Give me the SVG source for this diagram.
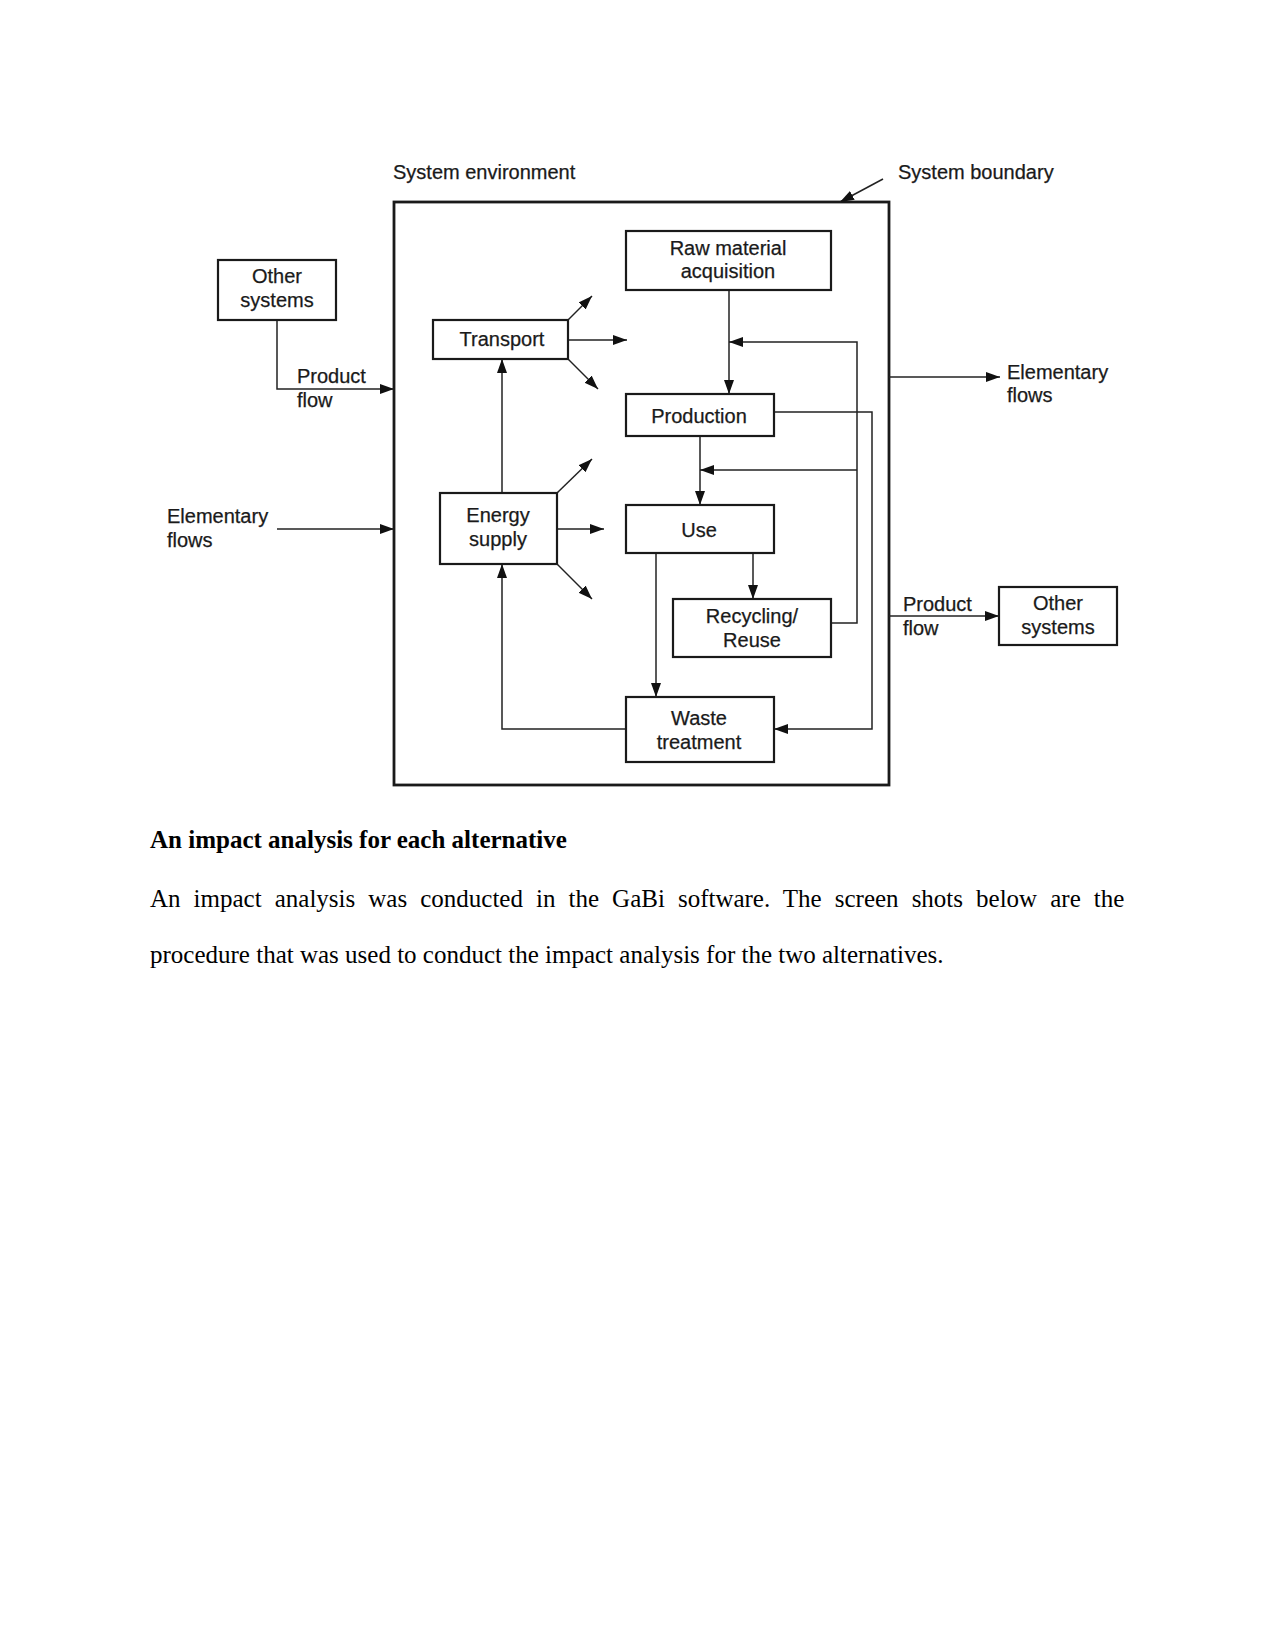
<svg xmlns="http://www.w3.org/2000/svg" width="1275" height="1651" viewBox="0 0 1275 1651">
<style>
.lbl{font-family:"Liberation Sans",Arial,sans-serif;font-size:20px;fill:#1a1a1a;stroke:#1a1a1a;stroke-width:0.25}
.c{text-anchor:middle}
.box{fill:#fff;stroke:#1a1a1a;stroke-width:2.2}
.ln{fill:none;stroke:#222;stroke-width:1.5}
.body{font-family:"Liberation Serif","Times New Roman",serif;font-size:25px;fill:#000}
</style>
<defs>
<marker id="ah" markerUnits="userSpaceOnUse" markerWidth="15" markerHeight="11" refX="14" refY="5" orient="auto">
<path d="M0,0 L14,5 L0,10 z" fill="#111"/>
</marker>
</defs>
<rect width="1275" height="1651" fill="#fff"/>

<g id="boundary">
<rect x="394" y="202" width="495" height="583" fill="none" stroke="#1a1a1a" stroke-width="2.8"/>
<text class="lbl" x="393" y="179">System environment</text>
<text class="lbl" x="898" y="179">System boundary</text>
</g>

<g id="connectors">
<path class="ln" d="M883,179 L840,202" marker-end="url(#ah)"/>
<path class="ln" d="M277,320 V389 H394" marker-end="url(#ah)"/>
<path class="ln" d="M277,529 H394" marker-end="url(#ah)"/>
<path class="ln" d="M568,320 L592,296" marker-end="url(#ah)"/>
<path class="ln" d="M568,340 H627" marker-end="url(#ah)"/>
<path class="ln" d="M568,359 L598,389" marker-end="url(#ah)"/>
<path class="ln" d="M557,493 L592,459" marker-end="url(#ah)"/>
<path class="ln" d="M557,529 H604" marker-end="url(#ah)"/>
<path class="ln" d="M557,564 L592,599" marker-end="url(#ah)"/>
<path class="ln" d="M502,493 V359" marker-end="url(#ah)"/>
<path class="ln" d="M626,729 H502 V564" marker-end="url(#ah)"/>
<path class="ln" d="M729,290 V394" marker-end="url(#ah)"/>
<path class="ln" d="M831,623 H857 V342 H729" marker-end="url(#ah)"/>
<path class="ln" d="M857,470 H700" marker-end="url(#ah)"/>
<path class="ln" d="M700,436 V505" marker-end="url(#ah)"/>
<path class="ln" d="M774,412 H872 V729 H774" marker-end="url(#ah)"/>
<path class="ln" d="M656,553 V697" marker-end="url(#ah)"/>
<path class="ln" d="M753,553 V599" marker-end="url(#ah)"/>
<path class="ln" d="M889,377 H1000" marker-end="url(#ah)"/>
<path class="ln" d="M889,616 H999" marker-end="url(#ah)"/>
</g>

<g id="other-systems-in">
<rect class="box" x="218" y="260" width="118" height="60"/>
<text class="lbl c" x="277" y="283">Other</text>
<text class="lbl c" x="277" y="307">systems</text>
</g>
<g id="product-flow-in">
<text class="lbl" x="297" y="383">Product</text>
<text class="lbl" x="297" y="407">flow</text>
</g>
<g id="elementary-flows-in">
<text class="lbl" x="167" y="523">Elementary</text>
<text class="lbl" x="167" y="547">flows</text>
</g>
<g id="transport">
<rect class="box" x="433" y="320" width="135" height="39"/>
<text class="lbl c" x="502" y="346">Transport</text>
</g>
<g id="energy-supply">
<rect class="box" x="440" y="493" width="117" height="71"/>
<text class="lbl c" x="498" y="522">Energy</text>
<text class="lbl c" x="498" y="546">supply</text>
</g>
<g id="raw-material">
<rect class="box" x="626" y="231" width="205" height="59"/>
<text class="lbl c" x="728" y="255">Raw material</text>
<text class="lbl c" x="728" y="278">acquisition</text>
</g>
<g id="production">
<rect class="box" x="626" y="394" width="148" height="42"/>
<text class="lbl c" x="699" y="423">Production</text>
</g>
<g id="use">
<rect class="box" x="626" y="505" width="148" height="48"/>
<text class="lbl c" x="699" y="537">Use</text>
</g>
<g id="recycling">
<rect class="box" x="673" y="599" width="158" height="58"/>
<text class="lbl c" x="752" y="623">Recycling/</text>
<text class="lbl c" x="752" y="647">Reuse</text>
</g>
<g id="waste-treatment">
<rect class="box" x="626" y="697" width="148" height="65"/>
<text class="lbl c" x="699" y="725">Waste</text>
<text class="lbl c" x="699" y="749">treatment</text>
</g>
<g id="elementary-flows-out">
<text class="lbl" x="1007" y="379">Elementary</text>
<text class="lbl" x="1007" y="402">flows</text>
</g>
<g id="product-flow-out">
<text class="lbl" x="903" y="611">Product</text>
<text class="lbl" x="903" y="635">flow</text>
</g>
<g id="other-systems-out">
<rect class="box" x="999" y="587" width="118" height="58"/>
<text class="lbl c" x="1058" y="610">Other</text>
<text class="lbl c" x="1058" y="634">systems</text>
</g>

<g id="text">
<text class="body" x="150" y="848" font-weight="bold">An impact analysis for each alternative</text>
<text class="body" x="150" y="907" word-spacing="6.8">An impact analysis was conducted in the GaBi software. The screen shots below are the</text>
<text class="body" x="150" y="963">procedure that was used to conduct the impact analysis for the two alternatives.</text>
</g>
</svg>
